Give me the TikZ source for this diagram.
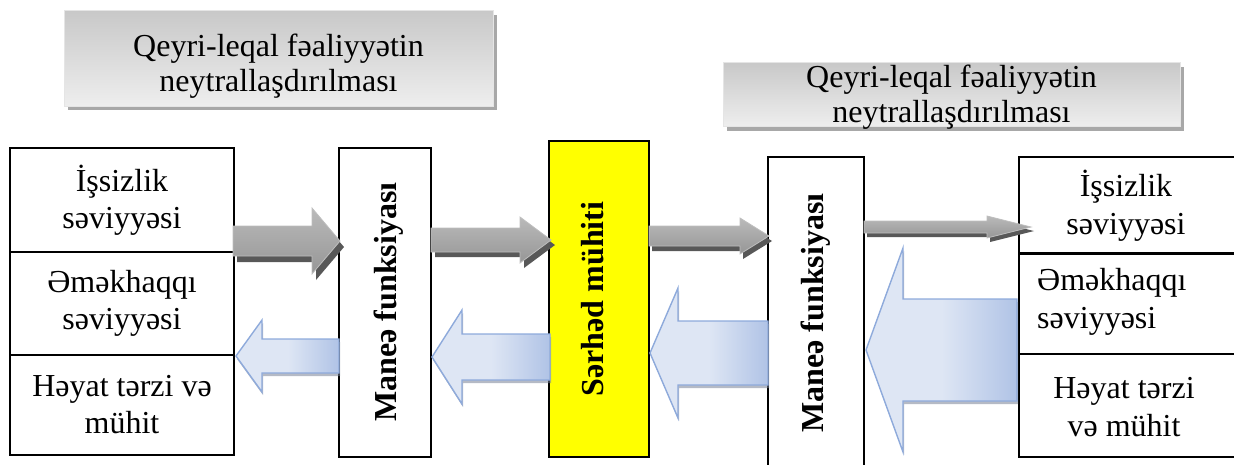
\documentclass[tikz,border=0pt]{standalone}
\usepackage{fontspec}
\setmainfont{Liberation Serif}
\usetikzlibrary{calc}
\definecolor{gshadow}{RGB}{88,88,88}
\definecolor{gtop}{RGB}{186,186,186}
\definecolor{gbot}{RGB}{150,150,150}
\definecolor{gedge}{RGB}{190,190,190}
\definecolor{bedge}{RGB}{142,170,219}
\definecolor{blight}{RGB}{222,230,244}
\definecolor{bdark}{RGB}{176,195,230}
\definecolor{bshadow}{RGB}{120,130,150}
\definecolor{ttop}{RGB}{200,200,200}
\definecolor{tbot}{RGB}{238,238,238}
\definecolor{tshadow}{RGB}{168,168,168}
\definecolor{yel}{RGB}{255,255,0}
% right-pointing gray block arrow: tail x, tip x, head base x, centre y, shaft half, head half, shadow dx, shadow dy
\newcommand\grayarr[8]{%
  \fill[gshadow] ({#1+#7},{#4-#5+#8}) -- ({#3+#7},{#4-#5+#8}) -- ({#3+#7},{#4-#6+#8}) -- ({#2+#7},{#4+#8}) -- ({#3+#7},{#4+#6+#8}) -- ({#3+#7},{#4+#5+#8}) -- ({#1+#7},{#4+#5+#8}) -- cycle;
  \shade[top color=gtop,bottom color=gbot,draw=gedge,line width=0.8pt] (#1,{#4-#5}) -- (#3,{#4-#5}) -- (#3,{#4-#6}) -- (#2,#4) -- (#3,{#4+#6}) -- (#3,{#4+#5}) -- (#1,{#4+#5}) -- cycle;}
% left-pointing blue block arrow: tip x, tail x, head base x, centre y, shaft half, head half
\newcommand\bluearr[6]{%
  \fill[bshadow,opacity=0.55] ({#1+1},{#4+3}) -- ({#3+1},{#4-#6+3}) -- ({#3+1},{#4-#5+3}) -- ({#2+1},{#4-#5+3}) -- ({#2+1},{#4+#5+3}) -- ({#3+1},{#4+#5+3}) -- ({#3+1},{#4+#6+3}) -- cycle;
  \shade[left color=blight,right color=bdark,middle color=blight,draw=bedge,line width=1.4pt] (#1,#4) -- (#3,{#4-#6}) -- (#3,{#4-#5}) -- (#2,{#4-#5}) -- (#2,{#4+#5}) -- (#3,{#4+#5}) -- (#3,{#4+#6}) -- cycle;}
\begin{document}
\begin{tikzpicture}[x=1pt,y=-1pt,
  cell/.style={draw=black,line width=1.6pt,fill=white,inner sep=0pt,align=center,font=\fontsize{32}{37}\selectfont},
  txt/.style={inner sep=0pt,align=center,font=\fontsize{32}{38}\selectfont},
  vtxt/.style={inner sep=0pt,rotate=90,font=\fontsize{32}{37}\selectfont\bfseries},
  titlebox/.style={inner sep=0pt,top color=ttop,bottom color=tbot,draw=gray!20,line width=0.6pt},
  titletxt/.style={inner sep=0pt,align=center,font=\fontsize{32}{35}\selectfont}]
\useasboundingbox (0,0) rectangle (1234,464);
\begin{scope}
\clip (0,0) rectangle (1234,464);
% title boxes with shadows
\fill[tshadow] (68,15) rectangle (497,110);
\node[titlebox,minimum width=429pt,minimum height=96pt] (t1) at (278.5,58) {};
\node[titletxt] (t1t) at (t1.center) [yshift=-8pt] {Qeyri-leqal fəaliyyətin\\neytrallaşdırılması};
\fill[tshadow] (727,67) rectangle (1184,131);
\node[titlebox,minimum width=457pt,minimum height=64pt] (t2) at (951.5,94) {};
\node[titletxt] (t2t) at (t2.center) [yshift=-3pt] {Qeyri-leqal fəaliyyətin\\neytrallaşdırılması};
% left column
\node[cell,minimum width=224pt,minimum height=104pt] (l1) at (122,200) {İşsizlik\\səviyyəsi};
\node[cell,minimum width=224pt,minimum height=103pt] (l2) at (122,303.5) {Əməkhaqqı\\səviyyəsi};
\node[cell,minimum width=224pt,minimum height=100pt] (l3) at (122,405) {Həyat tərzi və\\mühit};
% barrier boxes
\node[cell,minimum width=92pt,minimum height=309pt] (m1) at (385,302.5) {};
\node[vtxt] (m1t) at (389,302) {Maneə funksiyası};
\node[cell,fill=yel,minimum width=100pt,minimum height=316pt] (s1) at (599,299) {};
\node[vtxt] (s1t) at (593,299) {Sərhəd mühiti};
\node[cell,minimum width=96pt,minimum height=312pt] (m2) at (816,313) {};
\node[vtxt] (m2t) at (816,313) {Maneə funksiyası};
% right column
\node[cell,minimum width=218pt,minimum height=96pt] (r1) at (1128,205) {};
\node[txt] (r1t) at (1126,206) {İşsizlik\\səviyyəsi};
\node[cell,minimum width=218pt,minimum height=101pt] (r2) at (1128,303.5) {};
\node[txt,align=left,anchor=west] (r2t) at (1037,302) {Əməkhaqqı\\səviyyəsi};
\node[cell,minimum width=218pt,minimum height=103pt] (r3) at (1128,405.5) {};
\node[txt] (r3t) at (1124,407) {Həyat tərzi\\və mühit};
\draw[line width=3pt] (r1.south west) -- (r1.south east);
% gray arrows (right)
\grayarr{233}{340}{312}{241}{15}{33}{4}{6}
\grayarr{431}{551}{520}{240}{12}{23}{4}{5}
\grayarr{649}{769}{740}{236}{10}{18}{3}{5}
\grayarr{864}{1031}{987}{227}{6}{11}{3}{4}
% blue arrows (left)
\bluearr{236}{339}{262}{356}{17}{36}
\bluearr{432}{550}{462}{357}{23}{47}
\bluearr{650}{768}{678}{353}{32}{65}
\bluearr{866}{1017}{903}{350}{51}{102}
\end{scope}
\end{tikzpicture}
\end{document}
